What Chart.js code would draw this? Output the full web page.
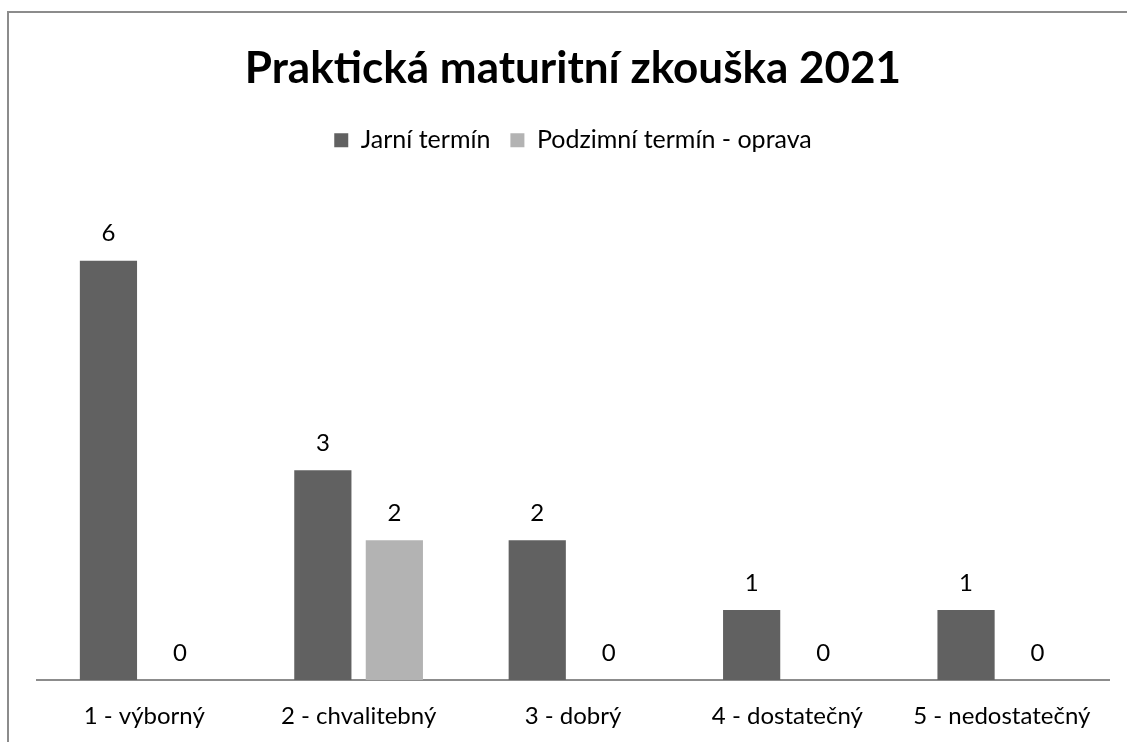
<!DOCTYPE html>
<html>
<head>
<meta charset="utf-8">
<script src="https://cdn.jsdelivr.net/npm/chart.js@4/dist/chart.umd.min.js"></script>
<style>
  html, body { margin: 0; padding: 0; background: #fff; overflow: hidden; }
  #wrap { position: relative; width: 1127px; height: 742px; }
  #frame { position: absolute; left: 7px; top: 11px; width: 1200px; height: 800px; border-left: 2px solid #8c8c8c; border-top: 2px solid #8c8c8c; box-sizing: border-box; }
  canvas { position: absolute; left: 0; top: 0; }
</style>
</head>
<body>
<div id="wrap">
  <div id="frame"></div>
  <canvas id="c" width="1127" height="742"></canvas>
</div>
<script>
const titleText = 'Praktická maturitní zkouška 2021';
const categories = ['1 - výborný', '2 - chvalitebný', '3 - dobrý', '4 - dostatečný', '5 - nedostatečný'];
const seriesNames = ['Jarní termín', 'Podzimní termín - oprava'];
const springValues = [6, 3, 2, 1, 1];
const autumnValues = [0, 2, 0, 0, 0];
const seriesColors = ['#616161', '#b3b3b3'];

const FONT = 'Lato, Carlito, Calibri, "Open Sans", sans-serif';

const valueLabels = {
  id: 'valueLabels',
  afterDatasetsDraw(chart) {
    const ctx = chart.ctx;
    ctx.save();
    ctx.font = '24px ' + FONT;
    ctx.fillStyle = '#000';
    ctx.textAlign = 'center';
    ctx.textBaseline = 'middle';
    chart.data.datasets.forEach((ds, i) => {
      const meta = chart.getDatasetMeta(i);
      meta.data.forEach((bar, j) => {
        ctx.fillText(String(ds.data[j]), bar.x, bar.y - 27);
      });
    });
    ctx.restore();
  }
};

new Chart(document.getElementById('c'), {
  type: 'bar',
  data: {
    labels: categories,
    datasets: [
      { label: seriesNames[0], data: springValues, backgroundColor: seriesColors[0], borderWidth: 0 },
      { label: seriesNames[1], data: autumnValues, backgroundColor: seriesColors[1], borderWidth: 0 }
    ]
  },
  options: {
    responsive: false,
    animation: false,
    devicePixelRatio: 1,
    categoryPercentage: 0.667,
    barPercentage: 0.8,
    layout: { padding: { left: 37, right: 18, top: 0, bottom: 0 } },
    plugins: {
      title: {
        display: true,
        text: titleText,
        color: '#000',
        font: { family: FONT, size: 44, weight: 'bold' },
        padding: { top: 42, bottom: 13 }
      },
      legend: {
        display: true,
        position: 'top',
        labels: {
          color: '#000',
          font: { family: FONT, size: 25 },
          boxWidth: 14,
          boxHeight: 14,
          padding: 20
        }
      },
      tooltip: { enabled: false }
    },
    scales: {
      x: {
        grid: { display: false, drawTicks: false },
        border: { display: true, color: '#8c8c8c', width: 2 },
        ticks: { color: '#000', font: { family: FONT, size: 24 }, padding: 22, maxRotation: 0 },
        afterFit(scale) { scale.height = 62; }
      },
      y: {
        display: false,
        min: 0,
        max: 7.4
      }
    }
  },
  plugins: [valueLabels]
});
</script>
</body>
</html>
